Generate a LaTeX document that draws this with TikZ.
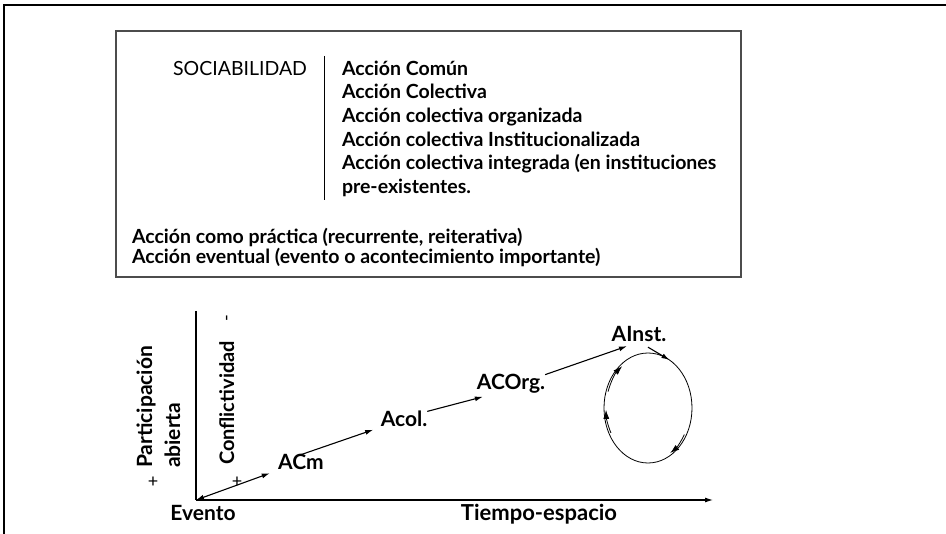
\documentclass[tikz,border=0pt]{standalone}
\usepackage{fontspec}
\setmainfont{Lato}
\usetikzlibrary{arrows.meta,shapes.geometric}

\begin{document}
\begin{tikzpicture}[x=1pt,y=-1pt,every node/.style={inner sep=0pt, outer sep=0pt},
  boxtext/.style={font=\fontsize{19.5}{23}\selectfont\bfseries, anchor=base west},
  stage/.style={font=\fontsize{21}{25}\selectfont\bfseries, anchor=base},
  vlabel/.style={rotate=90, anchor=base west, font=\fontsize{20}{24}\selectfont\bfseries},
  sign/.style={font=\fontsize{18}{22}\selectfont},
  arr/.style={line width=1.1pt, -{Latex[length=8pt,width=5pt]}},
  looparr/.style={line width=0.8pt, -{Latex[length=9pt,width=6pt]}}]
\useasboundingbox (0,0) rectangle (946,534);
\draw[line width=2pt] (946,5) -- (4,5) -- (4,534);
% upper box
\draw[black!70, line width=1.2pt] (116,31) rectangle (741,277);
\node[font=\fontsize{19.5}{23}\selectfont, anchor=base east] (soc) at (307,76) {SOCIABILIDAD};
\draw[line width=1pt] (324,56) -- (324,200);
\node[boxtext] (l1) at (342,76) {Acción Común};
\node[boxtext] (l2) at (342,99) {Acción Colectiva};
\node[boxtext] (l3) at (342,123) {Acción colectiva organizada};
\node[boxtext] (l4) at (342,147) {Acción colectiva Institucionalizada};
\node[boxtext] (l5) at (342,170) {Acción colectiva integrada (en instituciones};
\node[boxtext] (l6) at (342,194) {pre-existentes.};
\node[boxtext] (p1) at (132,244) {Acción como práctica (recurrente, reiterativa)};
\node[boxtext] (p2) at (132,264) {Acción eventual (evento o acontecimiento importante)};
% axes
\coordinate (origin) at (196,500);
\coordinate (ytop) at (196,311);
\coordinate (xend) at (713,500);
\draw[line width=1.2pt] (ytop) -- (origin);
\draw[arr] (origin) -- (xend);
\node[stage] (evento) at (203,521) {Evento};
\node[stage, font=\fontsize{22}{26}\selectfont\bfseries] (tiempo) at (539,521) {Tiempo-espacio};
\node[vlabel, font=\fontsize{21}{25}\selectfont\bfseries] (part) at (152,468) {Participación};
\node[vlabel, font=\fontsize{21}{25}\selectfont\bfseries] (abierta) at (180,468) {abierta};
\node[sign] (pplus) at (153,482) {+};
\node[vlabel] (confl) at (234,465) {Conflictividad};
\node[sign, rotate=90] (cminus) at (229,318) {-};
\node[sign] (cplus) at (237,482) {+};
% stages
\node[stage] (acm) at (301,470) {ACm};
\node[stage] (acol) at (404,427) {Acol.};
\node[stage] (acorg) at (511,390) {ACOrg.};
\node[stage] (ainst) at (639,342) {AInst.};
\node[draw, ellipse, line width=0.8pt, minimum width=88pt, minimum height=110pt] (cycle) at (648,408) {};
\draw[arr, {Latex[length=8pt,width=5pt]}-{Latex[length=8pt,width=5pt]}, shorten >=9pt] (origin) -- (acm.south west);
\draw[arr, shorten >=8pt] (acm.north) -- (acol.south west);
\draw[arr] (acol.north east) -- ([xshift=6pt,yshift=-3pt]acorg.south west);
\draw[arr] (acorg.north east) -- ([xshift=-12pt,yshift=-4pt]ainst.south);
\draw[arr] ([xshift=9pt,yshift=-5pt]ainst.south) -- (cycle.66);
% arrows round the cycle
\draw[looparr] ([shift={(198:42 and 53)}]cycle.center) arc[start angle=198, end angle=232, x radius=42, y radius=53];
\draw[looparr] ([shift={(152:42 and 53)}]cycle.center) arc[start angle=152, end angle=178, x radius=42, y radius=53];
\draw[looparr] ([shift={(30:42 and 53)}]cycle.center) arc[start angle=30, end angle=58, x radius=42, y radius=53];
\end{tikzpicture}
\end{document}
